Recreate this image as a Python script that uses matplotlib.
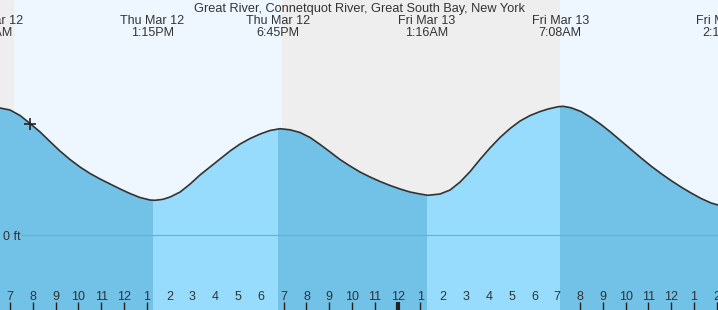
### GRAFIK PASANG SURUT - GREAT RIVER ###

import numpy as np
import matplotlib as mtp
mtp.use('Agg')  # backend non-GUI
import matplotlib.pyplot as plt
import matplotlib.transforms as mtrans
from matplotlib.patches import Rectangle

plt.rcParams['font.family'] = ['Liberation Sans', 'DejaVu Sans']

judul = "Great River, Connetquot River, Great South Bay, New York"

# jam sejak Thu Mar 12 00:00, tinggi air dalam ft
jam = [6.56, 7.00, 7.44, 7.88, 8.32, 8.75, 9.19, 9.63, 10.07, 10.51,
       10.95, 11.39, 11.83, 12.26, 12.70, 13.14, 13.36, 13.71, 14.02, 14.46,
       14.90, 15.33, 15.77, 16.21, 16.65, 17.09, 17.53, 17.97, 18.40, 18.84,
       19.28, 19.72, 20.16, 20.60, 21.04, 21.47, 21.91, 22.35, 22.79, 23.23,
       23.67, 24.11, 24.54, 24.98, 25.33, 25.86, 26.30, 26.74, 27.18, 27.61,
       28.05, 28.49, 28.93, 29.37, 29.81, 30.25, 30.60, 31.04, 31.26, 31.61,
       32.04, 32.48, 32.92, 33.36, 33.80, 34.24, 34.68, 35.11, 35.55, 35.99,
       36.43, 36.87, 37.31, 37.75, 38.05]
tinggi = [1.27, 1.25, 1.195, 1.115, 1.03, 0.935, 0.84, 0.755, 0.68, 0.615,
          0.56, 0.51, 0.46, 0.415, 0.375, 0.35, 0.347, 0.357, 0.38, 0.43,
          0.51, 0.60, 0.68, 0.76, 0.84, 0.91, 0.965, 1.01, 1.045, 1.063,
          1.052, 1.025, 0.975, 0.905, 0.83, 0.755, 0.69, 0.63, 0.58, 0.535,
          0.495, 0.46, 0.43, 0.41, 0.397, 0.41, 0.45, 0.53, 0.635, 0.755,
          0.87, 0.975, 1.065, 1.14, 1.195, 1.235, 1.26, 1.283, 1.287, 1.272,
          1.235, 1.175, 1.105, 1.025, 0.94, 0.855, 0.77, 0.69, 0.615, 0.545,
          0.48, 0.42, 0.365, 0.32, 0.30]

# pasang tertinggi / terendah
event_jam = [6.18, 13.25, 18.75, 25.27, 31.13, 38.32]
event_tgl = ["Thu Mar 12", "Thu Mar 12", "Thu Mar 12", "Fri Mar 13", "Fri Mar 13", "Fri Mar 13"]
event_wkt = ["6:11AM", "1:15PM", "6:45PM", "1:16AM", "7:08AM", "2:19PM"]

# periode air naik (warna lebih terang)
naik = [(13.25, 18.75), (25.27, 31.13)]
# siang hari (matahari terbit - terbenam)
siang = [(7.18, 18.93), (31.12, 40.0)]
# posisi sekarang
sekarang_jam, sekarang_tinggi = 7.88, 1.11

jam_tick = list(range(7, 39))

c_malam = '#eeeeee'
c_siang = '#eef7ff'
c_turun = '#72c1e6'
c_naik = '#97dcfd'
c_teks = '#333333'

fig = plt.figure(figsize=(7.18, 3.10), dpi=100)
ax = fig.add_axes([0, 0, 1, 1])
ax.set_xlim(6.56, 38.05)
ax.set_ylim(-0.75, 2.35)
ax.set_facecolor(c_malam)
for s in ax.spines.values():
    s.set_visible(False)

for a, b in siang:
    ax.axvspan(a, b, color=c_siang, lw=0, zorder=0)

ax.fill_between(jam, tinggi, -1, color=c_turun, lw=0, zorder=1)
for a, b in naik:
    p = ax.fill_between(jam, tinggi, -1, color=c_naik, lw=0, zorder=2)
    p.set_clip_path(Rectangle((a, -1), b - a, 5, transform=ax.transData))

# garis 0 ft
ax.axhline(0, xmin=22 / 718, xmax=1, color='#5fb0d8', lw=0.8, zorder=3)
ax.text(0.004, 0, "0 ft", transform=mtrans.blended_transform_factory(ax.transAxes, ax.transData),
        ha='left', va='center_baseline', fontsize=9, color=c_teks)

ax.plot(jam, tinggi, color='#333333', lw=1.2, zorder=4, solid_joinstyle='round')
ax.plot(sekarang_jam, sekarang_tinggi, marker='+', ms=9, mew=1.2, color='#222222', zorder=5)

# sumbu x: jam
ax.set_yticks([])
ax.set_xticks(jam_tick)
ax.set_xticklabels([])
ax.tick_params(axis='x', direction='in', length=5.8, width=1, color='#222222')
for i, h in enumerate(jam_tick):
    if h == 24:
        ax.xaxis.get_major_ticks()[i].tick1line.set_markeredgewidth(3)

trans = mtrans.blended_transform_factory(ax.transData, ax.transAxes)
for h in jam_tick:
    ax.text(h, 0.032, str((h - 1) % 12 + 1), transform=trans, ha='center',
            va='baseline', fontsize=9, color=c_teks)

for t, tg, w in zip(event_jam, event_tgl, event_wkt):
    ax.text(t, 0.9235, tg, transform=trans, ha='center', va='baseline', fontsize=9, color=c_teks)
    ax.text(t, 0.8839, w, transform=trans, ha='center', va='baseline', fontsize=9, color=c_teks)

ax.text(0.5, 0.9603, judul, transform=ax.transAxes, ha='center', va='baseline',
        fontsize=9.2, color=c_teks)

plt.savefig("out.png", dpi=100)
